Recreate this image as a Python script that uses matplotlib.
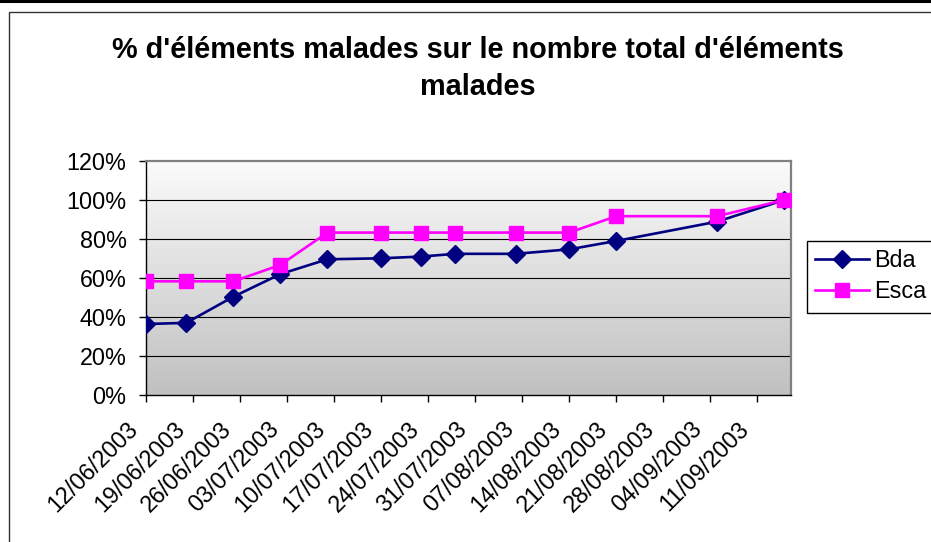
import matplotlib
matplotlib.use('Agg')
import matplotlib.pyplot as plt
import matplotlib.dates as mdates
import matplotlib.transforms as mtransforms
from matplotlib.colors import LinearSegmentedColormap
from matplotlib.lines import Line2D
from matplotlib.patches import Rectangle
import numpy as np
from datetime import datetime, timedelta

plt.rcParams['font.family'] = ['Liberation Sans', 'DejaVu Sans']

# données
dates = ['12/06/2003', '18/06/2003', '25/06/2003', '02/07/2003', '09/07/2003',
         '17/07/2003', '23/07/2003', '28/07/2003', '06/08/2003', '14/08/2003',
         '21/08/2003', '05/09/2003', '15/09/2003']
bda = [36.4, 37.0, 50.4, 62.0, 69.6, 70.1, 71.0, 72.4, 72.4, 74.7, 79.0, 88.9, 100.0]
esca = [58.3, 58.3, 58.3, 66.7, 83.3, 83.3, 83.3, 83.3, 83.3, 83.3, 91.7, 91.7, 100.0]
yticks = [0, 20, 40, 60, 80, 100, 120]

x = [datetime.strptime(d, '%d/%m/%Y') for d in dates]

W, H = 931, 542
fig = plt.figure(figsize=(W / 100, H / 100), dpi=100)

def px(x0, y0):
    # pixels (origine en haut à gauche) -> fraction de figure
    return x0 / W, 1 - y0 / H

# cadre du graphique
fig.add_artist(Line2D([0, 1], [1 - 1 / H, 1 - 1 / H], color='black', lw=2.2))
fig.add_artist(Rectangle(px(9, 560), 960 / W, 548 / H, fill=False,
                         edgecolor='#333333', lw=1.0, transform=fig.transFigure))

left, top, right, bottom = 146, 161, 791, 395
ax = fig.add_axes([left / W, 1 - bottom / H, (right - left) / W, (bottom - top) / H])

# fond dégradé
cmap = LinearSegmentedColormap.from_list('fond', ['#c0c0c0', '#fbfbfb'])
grad = np.linspace(0, 1, 256).reshape(-1, 1)
ax.imshow(grad, extent=[0, 1, 0, 1], transform=ax.transAxes, aspect='auto',
          cmap=cmap, origin='lower', zorder=0)

for v in yticks[1:-1]:
    ax.axhline(v, color='black', lw=0.8, zorder=1)

ax.plot(x, bda, color='#000080', lw=1.9, marker='D', ms=9, label='Bda', zorder=3)
ax.plot(x, esca, color='#ff00ff', lw=1.9, marker='s', ms=10.5, label='Esca', zorder=4)

start = datetime(2003, 6, 12)
ax.set_xlim(start, datetime(2003, 9, 16))
ax.set_ylim(0, 120)
ax.set_yticks(yticks)
ax.set_yticklabels([f'{v}%' for v in yticks])

ticks = [start + timedelta(days=7 * i) for i in range(14)]
ax.set_xticks(ticks)
ax.xaxis.set_major_formatter(mdates.DateFormatter('%d/%m/%Y'))

ax.tick_params(axis='both', labelsize=16.8, direction='out', length=5, width=1, color='black')
ax.tick_params(axis='y', pad=9)
ax.tick_params(axis='x', pad=11)

# étiquettes à 45°, un peu décalées vers la gauche
shift = mtransforms.ScaledTranslation(-4 / 100, 0, fig.dpi_scale_trans)
for lab in ax.get_xticklabels():
    lab.set_rotation(45)
    lab.set_ha('right')
    lab.set_transform(lab.get_transform() + shift)

for s in ['top', 'right']:
    ax.spines[s].set_color('#808080')
    ax.spines[s].set_linewidth(1.6)
for s in ['left', 'bottom']:
    ax.spines[s].set_color('black')
    ax.spines[s].set_linewidth(1.0)

fig.text(478 / W, 1 - 36 / H,
         "% d'éléments malades sur le nombre total d'éléments\nmalades",
         ha='center', va='top', fontsize=20.8, fontweight='bold', linespacing=1.42)

# légende (coupée par le bord droit comme dans l'original)
leg = fig.legend(loc='upper left', bbox_to_anchor=px(806.7, 241), borderaxespad=0,
                 fontsize=16.8, frameon=False,
                 handlelength=2.3, handletextpad=0.26, borderpad=0.35, labelspacing=0.35)
fig.add_artist(Rectangle(px(806.7, 313), 200 / W, 72 / H, fill=False,
                         edgecolor='black', lw=1.0, transform=fig.transFigure))

fig.savefig('out.png', dpi=100)
